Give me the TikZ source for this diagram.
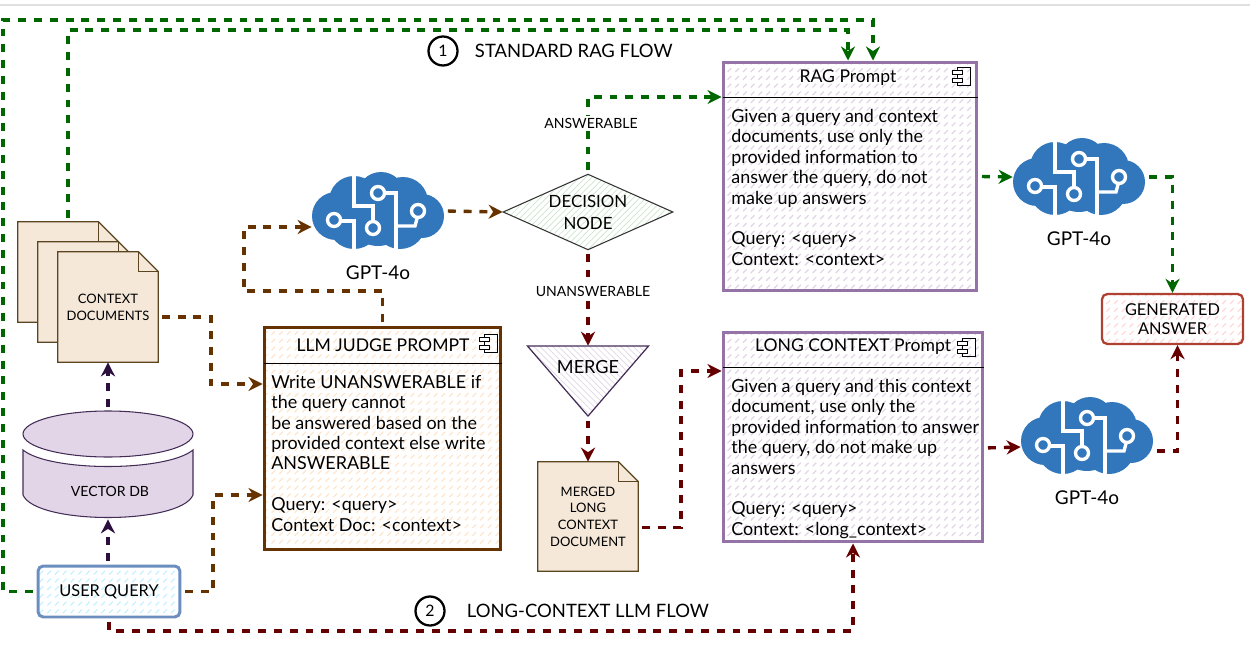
\documentclass[tikz,border=0pt]{standalone}
\usepackage{fontspec}
\setmainfont{Lato}
\usetikzlibrary{positioning}
\usetikzlibrary{shapes.geometric}
\usetikzlibrary{arrows.meta}
\usetikzlibrary{patterns,patterns.meta}
\usetikzlibrary{backgrounds}

\definecolor{flowgreen}{HTML}{006600}
\definecolor{flowbrown}{HTML}{663300}
\definecolor{flowred}{HTML}{660000}
\definecolor{flowpurple}{HTML}{2B0F3F}
\definecolor{brainblue}{HTML}{3277BC}
\definecolor{paperfill}{HTML}{F5E8D9}
\definecolor{paperline}{HTML}{5A4520}
\definecolor{dbfill}{HTML}{E1D5E7}
\definecolor{dbline}{HTML}{432D57}
\definecolor{ragline}{HTML}{9673A6}
\definecolor{queryline}{HTML}{6C8EBF}
\definecolor{answerline}{HTML}{AE4132}

\pgfdeclarepatternformonly{hachure}{\pgfqpoint{-0.5pt}{-0.5pt}}{\pgfqpoint{4.5pt}{4.5pt}}{\pgfqpoint{4.4pt}{4.4pt}}{%
  \pgfsetlinewidth{0.7pt}\pgfpathmoveto{\pgfqpoint{0.5pt}{0.5pt}}\pgfpathlineto{\pgfqpoint{2.6pt}{2.6pt}}\pgfusepath{stroke}}

% paper sheet with a folded corner, behind the named node
\newcommand{\dogear}[1]{%
  \begin{pgfonlayer}{background}
  \draw[paperline, fill=paperfill, line width=0.7pt] (#1.north west) -- ([xshift=-0.4cm]#1.north east) -- ([yshift=-0.4cm]#1.north east) -- (#1.south east) -- (#1.south west) -- cycle;
  \draw[paperline, line width=0.5pt] ([xshift=-0.4cm]#1.north east) -- ([xshift=-0.4cm,yshift=-0.4cm]#1.north east) -- ([yshift=-0.4cm]#1.north east);
  \end{pgfonlayer}}

\tikzset{
brainicon/.pic={
  \fill[brainblue] (-42,5) circle (24) (-24,-10) circle (25) (3,-15) circle (24) (25,-9) circle (25) (44,5) circle (22) (-24,12) circle (26) (22,12) circle (26) (0,5) circle (30);
  \draw[white, line width=1.9pt] (-24,-38) -- (-24,-5) -- (-5,-5) -- (-5,12);
  \draw[white, line width=1.9pt] (-38,10) -- (-24,10) -- (-24,38);
  \draw[white, line width=1.9pt] (5,-18) -- (18,-18) -- (18,38);
  \draw[white, line width=1.9pt] (40,4) -- (37,15) -- (18,15);
  \draw[white, fill=brainblue, line width=1.9pt] (-44,9) circle (6.5) (-5,17) circle (6.5) (0,-18) circle (6.5) (40,0) circle (6.5);
},
partsicon/.pic={
  \draw[black, line width=0.5pt] (-6,-9) rectangle (7,9);
  \draw[black, fill=white, line width=0.5pt] (-11,-6) rectangle (-1,-2) (-11,2) rectangle (-1,6);
}
}

\begin{document}
\begin{tikzpicture}[%
    x=0.02cm, y=-0.02cm,
    node distance=1.2cm,
    bodytext/.style={inner sep=0pt, anchor=north west, align=left, font=\fontsize{10.2}{11.6}\selectfont},
    boxtitle/.style={inner sep=0pt, font=\fontsize{10}{11}\selectfont},
    smalltext/.style={inner sep=1pt, align=center, font=\fontsize{8}{9.2}\selectfont},
    mergetitle/.style={inner sep=0pt, align=center, font=\fontsize{10.3}{12.5}\selectfont},
    flowtext/.style={inner sep=0pt, anchor=west, font=\fontsize{10.5}{11}\selectfont},
    numcircle/.style={circle, draw=black, line width=1.3pt, minimum size=0.58cm, inner sep=0pt, font=\fontsize{9}{11}\selectfont},
    purplebox/.style={rectangle, draw=ragline, line width=1.7pt, pattern=hachure, pattern color=dbfill},
    brownbox/.style={rectangle, draw=flowbrown, line width=1.7pt, pattern=hachure, pattern color=orange!20},
    querybox/.style={rectangle, rounded corners=3pt, draw=queryline, line width=1.7pt, pattern=hachure, pattern color=blue!25!cyan!22, minimum width=2.84cm, minimum height=1.02cm, inner sep=0pt, font=\fontsize{9.3}{10}\selectfont},
    answerbox/.style={rectangle, rounded corners=3pt, draw=answerline, line width=1.3pt, pattern=hachure, pattern color=red!15, minimum width=2.82cm, minimum height=1cm, inner sep=0pt, align=center, font=\fontsize{9.3}{11.2}\selectfont},
    dnode/.style={diamond, aspect=1.9, draw=black!80, line width=0.6pt, pattern={Lines[angle=45,distance=2.5pt,line width=0.4pt]}, pattern color=green!30!gray!30, minimum width=3.4cm, inner sep=0pt, align=center, font=\fontsize{9.6}{12.5}\selectfont},
    mergenode/.style={isosceles triangle, isosceles triangle stretches, shape border rotate=270, draw=dbline, line width=0.7pt, pattern={Lines[angle=-45,distance=2.5pt,line width=0.4pt]}, pattern color=dbfill, minimum width=2.42cm, minimum height=1.4cm, inner sep=0pt},
    papernode/.style={rectangle, minimum width=2cm, minimum height=2cm, inner sep=0pt, align=center, font=\fontsize{7.4}{9.6}\selectfont},
    brainnode/.style={rectangle, minimum width=2.64cm, minimum height=1.56cm, inner sep=0pt},
    gptlabel/.style={inner sep=0pt, font=\fontsize{10.8}{11}\selectfont},
    dbnode/.style={rectangle, minimum width=3.4cm, minimum height=2.16cm, inner sep=0pt},
    flow/.style={dash pattern=on 4.5pt off 4.5pt, line width=1.9pt, shorten <=2pt, -{Stealth[length=8pt,width=8pt]}},
    greenflow/.style={flow, draw=flowgreen},
    brownflow/.style={flow, draw=flowbrown},
    redflow/.style={flow, draw=flowred},
    purpleflow/.style={flow, draw=flowpurple}
]
\useasboundingbox (0,0) rectangle (1250,645);
\coordinate (chromeleft) at (0,5);
\coordinate (chromeright) at (1250,5);
\draw[black!12, line width=0.6pt] (chromeleft) -- (chromeright);

% Documents
\node[papernode]      (back) at (68,272) {};
\dogear{back}
\node[papernode]      (mid) at (88,292) {};
\dogear{mid}
\node[papernode, minimum height=2.2cm]      (front) at (108,307) {CONTEXT\\DOCUMENTS};
\dogear{front}

% Vector DB
\node[dbnode]      (db) at (108,465) {};
\fill[dbfill] (23,450) .. controls (50,472) and (166,472) .. (193,450) -- (193,495) .. controls (180,525) and (36,525) .. (23,495) -- cycle;
\draw[dbline, line width=0.6pt] (23,495) -- (23,450) .. controls (50,472) and (166,472) .. (193,450) -- (193,495) .. controls (180,525) and (36,525) .. (23,495);
\draw[dbline, fill=dbfill, line width=0.6pt] (108,434) ellipse (85 and 23);
\node[smalltext]      (dbtext) at (110,491) {VECTOR DB};

% User Query
\node[querybox]      (query) at (109,591.5) {USER QUERY};

% Judge Nodes
\node[brownbox, minimum width=4.74cm, minimum height=4.46cm]      (judge) at (382.5,438.5) {};
\coordinate (judgerule) at (264,363);
\draw[black, line width=0.5pt] (judgerule) -- (judgerule -| judge.east);
\node[boxtitle]      (judgetitle) at (383,345) {LLM JUDGE PROMPT};
\pic at (490,343) {partsicon};
\node[bodytext]      (judgetext) at (271,375) {Write UNANSWERABLE if\\the query cannot\\be answered based on the\\provided context else write\\ANSWERABLE\\[11.6pt]Query: <query>\\Context Doc: <context>};
\node[brainnode]      (gptjudge) at (378,211) {};
\pic at (gptjudge) {brainicon};
\node[gptlabel]      (gptjudgetext) [below=0.3cm of gptjudge] {GPT-4o};

% Decision Nodes
\node[dnode]      (decision) at (588,212) {DECISION\\NODE};
\node[mergenode, anchor=apex]      (merge) at (588,417) {};
\node[mergetitle]      (mergetext) at (588,367) {MERGE};
\node[papernode, minimum height=2.18cm, font=\fontsize{7.4}{9.5}\selectfont]      (merged) at (588,516.5) {MERGED\\LONG\\CONTEXT\\DOCUMENT};
\dogear{merged}

% RAG Nodes
\node[purplebox, minimum width=5.08cm, minimum height=4.58cm]      (rag) at (850,176.5) {};
\coordinate (ragrule) at (723,97);
\draw[black, line width=0.5pt] (ragrule) -- (ragrule -| rag.east);
\node[boxtitle]      (ragtitle) at (848,78) {RAG Prompt};
\pic at (963,76) {partsicon};
\node[bodytext]      (ragtext) at (731,109) {Given a query and context\\documents, use only the\\provided information to\\answer the query, do not\\make up answers\\[11.6pt]Query: <query>\\Context: <context>};
\node[brainnode]      (gptrag) at (1079,177) {};
\pic at (gptrag) {brainicon};
\node[gptlabel]      (gptragtext) [below=0.3cm of gptrag] {GPT-4o};

% Long Context Nodes
\node[purplebox, minimum width=5.2cm, minimum height=4.2cm]      (long) at (853,437) {};
\coordinate (longrule) at (723,367);
\draw[black, line width=0.5pt] (longrule) -- (longrule -| long.east);
\node[boxtitle]      (longtitle) at (853,347) {LONG CONTEXT Prompt};
\pic at (968,347) {partsicon};
\node[bodytext]      (longtext) at (731,379) {Given a query and this context\\document, use only the\\provided information to answer\\the query, do not make up\\answers\\[11.6pt]Query: <query>\\Context: <long\_context>};
\node[brainnode]      (gptlong) at (1087,436) {};
\pic at (gptlong) {brainicon};
\node[gptlabel]      (gptlongtext) [below=0.3cm of gptlong] {GPT-4o};

% Answer
\node[answerbox]      (answer) at (1172.5,319) {GENERATED\\ANSWER};

% Titles
\node[numcircle]      (flowone) at (443,51) {1};
\node[flowtext]      (flowonetext) [right=0.32cm of flowone] {STANDARD RAG FLOW};
\node[numcircle]      (flowtwo) at (430,611) {2};
\node[flowtext]      (flowtwotext) [right=0.42cm of flowtwo] {LONG-CONTEXT LLM FLOW};

% Bends
\coordinate (topleft) at (3,20);
\coordinate (topmid) at (68,30);
\coordinate (ctxbend) at (211,384);
\coordinate (judgebend) at (244,291);
\coordinate (mergedbend) at (681,371);
\coordinate (querybend) at (213,495);
\coordinate (bottombend) at (300,631);

% Green Lines
\draw[greenflow] (query.west) -| (topleft) -| ([xshift=0.46cm]rag.north);
\draw[greenflow] (back.north) -- (topmid) -| ([xshift=-0.04cm]rag.north);
\draw[greenflow] (decision.north) |- ([yshift=1.59cm]rag.west);
\draw[greenflow] (rag.east) -- (gptrag.west);
\draw[greenflow] (gptrag.east) -| (answer.north);

% Brown Lines
\draw[brownflow] ([yshift=-0.2cm]front.east) -| (ctxbend) -- (ctxbend -| judge.west);
\draw[brownflow] (query.east) -| (querybend) -- (querybend -| judge.west);
\draw[brownflow] (judge.north) |- (judgebend) |- ([yshift=-0.32cm]gptjudge.west);
\draw[brownflow] (gptjudge.east) -- (decision.west);

% Red Lines
\draw[redflow] (decision.south) -- (merge.north);
\draw[redflow] (merge.apex) -- (merged.north);
\draw[redflow] ([yshift=-0.22cm]merged.east) -| (mergedbend) -- (mergedbend -| long.west);
\draw[redflow] ([yshift=-0.22cm]long.east) -- ([yshift=-0.22cm]gptlong.west);
\draw[redflow] ([yshift=-0.3cm]gptlong.east) -| ([xshift=0.1cm]answer.south);
\draw[redflow] (query.south) |- (bottombend) -| (long.south);

% Purple Lines
\draw[purpleflow] (query.north -| db.south) -- (db.south);
\draw[purpleflow] (db.north) -- (front.south);

% Line Labels
\node[smalltext, fill=white]      (answerable) at (591,123) {ANSWERABLE};
\node[smalltext, fill=white]      (unanswerable) at (593,291) {UNANSWERABLE};

\end{tikzpicture}
\end{document}
